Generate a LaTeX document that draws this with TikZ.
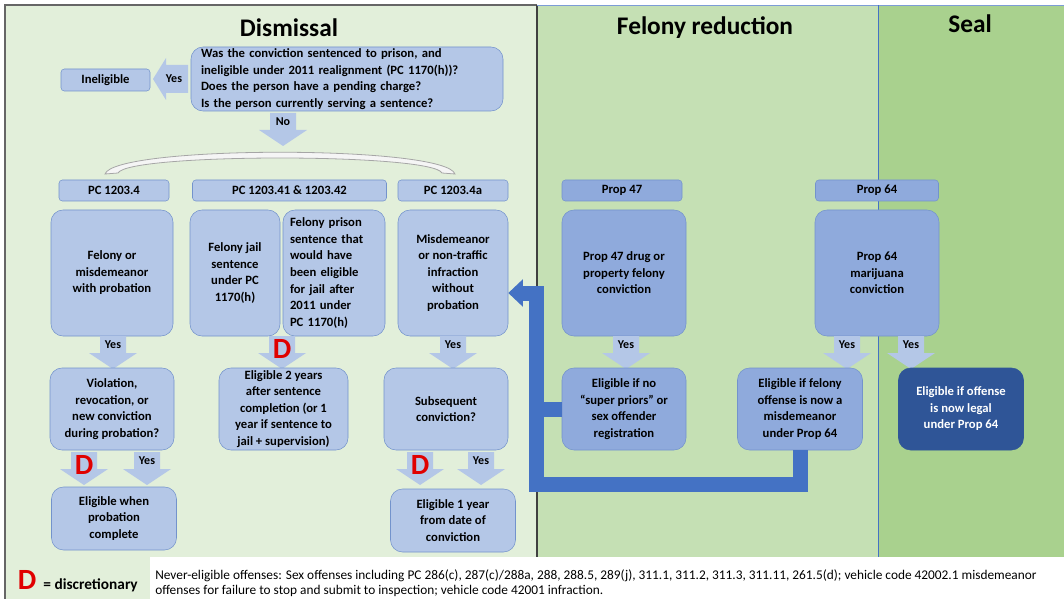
\documentclass[tikz,border=0pt]{standalone}
\usepackage{fontspec}
\setmainfont{Carlito}
\usepackage{tikz}
\usetikzlibrary{arrows.meta}

\definecolor{dismissbg}{HTML}{E2EFDA}
\definecolor{felonybg}{HTML}{C5E0B4}
\definecolor{sealbg}{HTML}{A9D18E}
\definecolor{boxfill}{HTML}{B4C7E7}
\definecolor{propfill}{HTML}{8FAADC}
\definecolor{boxedge}{HTML}{7393CC}
\definecolor{arrowblue}{HTML}{B4C7E7}
\definecolor{connblue}{HTML}{4472C4}
\definecolor{sealbox}{HTML}{2F5597}
\definecolor{dred}{HTML}{E00000}

% fat down arrow: name, x, top y, label style, label
\newcommand{\blockdown}[5]{%
  \fill[arrowblue] (#2-13,#3) -- (#2+13,#3) -- (#2+13,#3+17) -- (#2+24,#3+17)
    -- (#2,#3+33) -- (#2-24,#3+17) -- (#2-13,#3+17) -- cycle;
  \node[#4] (#1) at (#2,#3+9) {#5};
}

\begin{document}
\begin{tikzpicture}[x=0.75pt,y=-0.75pt,line cap=butt,line join=miter,
  flowbox/.style={draw=boxedge, fill=boxfill, rounded corners=9pt, align=center, inner sep=0pt, font=\fontsize{9.5}{12.4}\selectfont\bfseries},
  hdr/.style={flowbox, rounded corners=2.5pt},
  wh/.style 2 args={minimum width=#1*0.75pt, minimum height=#2*0.75pt},
  yeslbl/.style={font=\fontsize{9}{10}\selectfont\bfseries, inner sep=0pt},
  dmark/.style={text=dred, font=\fontsize{22}{22}\selectfont\bfseries, inner sep=0pt, yshift=-3pt},
  title/.style={font=\fontsize{19}{22}\selectfont\bfseries},
  conn/.style={draw=connblue, line width=11.25pt}]
\useasboundingbox (0,0) rectangle (1064,599);

% panels
\fill[dismissbg] (5,5) rectangle (537,599);
\fill[felonybg] (537,5) rectangle (878,557);
\fill[sealbg] (878,5) rectangle (1064,557);
\fill[white] (150,557) rectangle (1064,599);
\draw[gray!80!black, line width=0.8pt] (5,599) -- (5,5) -- (537,5);
\draw[black!75, line width=0.8pt] (537,5) -- (537,557);
\draw[connblue!70, line width=0.6pt] (537,5) -- (1064,5);
\draw[connblue, line width=0.5pt] (878,5) -- (878,557);

\node[title] (tdis) at (289,28) {Dismissal};
\node[title] (tfel) at (705,28) {Felony reduction};
\node[title] (tseal) at (970,24) {Seal};

% first question
\node[flowbox, wh={312}{64}, align=left, text width=219pt] (q) at (347,79)
  {Was the conviction sentenced to prison, and\\ineligible under 2011 realignment (PC 1170(h))?\\Does the person have a pending charge?\\Is the person currently serving a sentence?};
\node[flowbox, rounded corners=2.5pt, wh={89}{22}] (inel) at (105.5,80) {Ineligible};
\fill[arrowblue] (188,65) -- (166,65) -- (166,58) -- (153,79) -- (166,100) -- (166,93) -- (188,93) -- cycle;
\node[yeslbl] (yq) at (174,79) {Yes};
\blockdown{no}{283}{113}{yeslbl}{No}
\filldraw[fill=gray!8, draw=gray!70, line width=0.6pt] (105,174) .. controls (115,145) and (445,145) .. (455,174)
  -- (442,173) .. controls (432,153) and (128,153) .. (118,173) -- cycle;

% headers
\node[hdr, wh={110}{21}] (h1) at (114,190.5) {PC 1203.4};
\node[hdr, wh={194}{21}] (h2) at (289.5,190.5) {PC 1203.41 \& 1203.42};
\node[hdr, wh={110}{21}] (h3) at (453,190.5) {PC 1203.4a};
\node[hdr, fill=propfill, wh={120}{21}] (h4) at (622,190.5) {Prop 47};
\node[hdr, fill=propfill, wh={123}{21}] (h5) at (877,190.5) {Prop 64};

% offence boxes
\node[flowbox, wh={122}{126}] (m1) at (112,273) {Felony or\\misdemeanor\\with probation};
\node[flowbox, wh={90}{126}] (m2) at (235,273) {Felony jail\\sentence\\under PC\\1170(h)};
\node[flowbox, wh={102}{126}, align=left, text width=66pt] (m3) at (334,273)
  {Felony prison\\sentence that\\would have\\been eligible\\for jail after\\2011 under\\PC 1170(h)};
\node[flowbox, wh={110}{126}] (m4) at (453,273) {Misdemeanor\\or non-traffic\\infraction\\without\\probation};
\node[flowbox, fill=propfill, wh={124}{126}] (m5) at (624,273) {Prop 47 drug or\\property felony\\conviction};
\node[flowbox, fill=propfill, wh={124}{126}] (m6) at (877,273) {Prop 64\\marijuana\\conviction};

\blockdown{y1}{113}{336}{yeslbl}{Yes}
\blockdown{d1}{282}{336}{dmark}{D}
\blockdown{y2}{453}{336}{yeslbl}{Yes}
\blockdown{y3}{626}{336}{yeslbl}{Yes}
\blockdown{y4}{847}{336}{yeslbl}{Yes}
\blockdown{y5}{911}{336}{yeslbl}{Yes}

% second row
\node[flowbox, wh={124}{82}] (r1) at (112,409) {Violation,\\revocation, or\\new conviction\\during probation?};
\node[flowbox, wh={129}{82}] (r2) at (283.5,409) {Eligible 2 years\\after sentence\\completion (or 1\\year if sentence to\\jail + supervision)};
\node[flowbox, wh={124}{82}] (r3) at (446,409) {Subsequent\\conviction?};
\node[flowbox, fill=propfill, wh={124}{82}] (r4) at (624,409) {Eligible if no\\“super priors” or\\sex offender\\registration};
\node[flowbox, fill=propfill, wh={125}{82}] (r5) at (800,409) {Eligible if felony\\offense is now a\\misdemeanor\\under Prop 64};
\node[flowbox, fill=sealbox, draw=sealbox, text=white, wh={125}{82}] (r6) at (961,409) {Eligible if offense\\is now legal\\under Prop 64};

\blockdown{d2}{84}{452}{dmark}{D}
\blockdown{y6}{147}{452}{yeslbl}{Yes}
\blockdown{d3}{420}{452}{dmark}{D}
\blockdown{y7}{481}{452}{yeslbl}{Yes}

\node[flowbox, wh={125}{63}] (b1) at (114,518.5) {Eligible when\\probation\\complete};
\node[flowbox, wh={125}{63}] (b2) at (453,520.5) {Eligible 1 year\\from date of\\conviction};

% back to the misdemeanor box
\coordinate (cb) at (536,484);
\coordinate (ct) at (536,293);
\draw[conn, -{Triangle[width=20pt,length=11pt]}] (r5.south) -- (r5.south |- cb) -- (cb) -- (ct) -- (m4.east |- ct);
\draw[conn] (r4.west -| cb) -- (r4.west);

% legend and note
\node[dmark] (dleg) at (27,576) {D};
\node[anchor=base west, inner sep=0pt, font=\fontsize{11.5}{14}\selectfont\bfseries] (dtxt) at ([xshift=5pt]dleg.base east) {= discretionary};
\node[anchor=west, align=left, inner sep=0pt, font=\fontsize{10}{11.2}\selectfont] (note) at (155,583)
  {Never-eligible offenses: Sex offenses including PC 286(c), 287(c)/288a, 288, 288.5, 289(j), 311.1, 311.2, 311.3, 311.11, 261.5(d); vehicle code 42002.1 misdemeanor\\offenses for failure to stop and submit to inspection; vehicle code 42001 infraction.};
\end{tikzpicture}
\end{document}
